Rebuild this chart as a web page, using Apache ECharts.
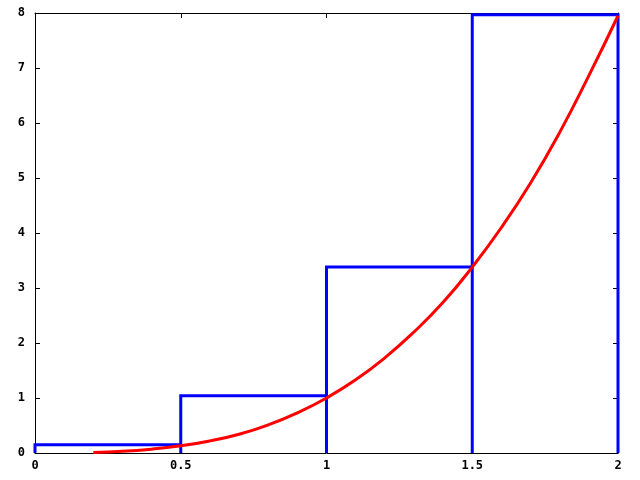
<!DOCTYPE html>
<html lang="en">
  <head>
    <meta charset="UTF-8" />
    <script src="https://cdn.jsdelivr.net/npm/echarts@6/dist/echarts.min.js"></script>
    <style>
      html,
      body {
        margin: 0;
        overflow: hidden;
      }
      #viewport {
        width: 640px;
        height: 480px;
      }
    </style>
  </head>
  <body>
    <div id="viewport"></div>
    <script>
      // rectangle edges and heights (blue boxes)
      var boxEdges = [0, 0.5, 1, 1.5, 2];
      var boxHeights = [0.15, 1.04, 3.38, 7.97];

      // red curve
      var curveX = [0.2, 0.3, 0.4, 0.5, 0.6, 0.7, 0.8, 0.9, 1.0, 1.1, 1.2, 1.3, 1.4, 1.5, 1.6, 1.7, 1.8, 1.9, 2.0];
      var curveY = [0.01, 0.03, 0.07, 0.13, 0.22, 0.34, 0.51, 0.73, 1.0, 1.33, 1.73, 2.2, 2.74, 3.38, 4.1, 4.91, 5.83, 6.86, 7.95];

      var xTicks = ['0', '0.5', '1', '1.5', '2'];
      var yTicks = ['0', '1', '2', '3', '4', '5', '6', '7', '8'];

      // outline of each box: up, across, down
      var boxPath = [[boxEdges[0], 0]];
      for (var i = 0; i < boxHeights.length; i++) {
        boxPath.push([boxEdges[i], boxHeights[i]]);
        boxPath.push([boxEdges[i + 1], boxHeights[i]]);
        boxPath.push([boxEdges[i + 1], 0]);
      }
      var curve = curveX.map(function (x, i) {
        return [x, curveY[i]];
      });

      var labelFont = {
        fontFamily: 'DejaVu Sans Mono',
        fontWeight: 'bold',
        fontSize: 12,
        color: '#000'
      };
      var frameLine = { show: true, onZero: false, lineStyle: { color: '#000', width: 1 } };
      var tick = { show: true, inside: true, length: 5, lineStyle: { color: '#000' } };

      var myChart = echarts.init(document.getElementById('viewport'));
      var option = {
        animation: false,
        backgroundColor: '#fff',
        grid: { left: 35, right: 22, top: 13, bottom: 27 },
        xAxis: [
          {
            type: 'value',
            min: 0,
            max: 2,
            interval: 0.5,
            axisLine: frameLine,
            axisTick: tick,
            splitLine: { show: false },
            axisLabel: Object.assign({ margin: 7 }, labelFont, {
              formatter: function (v) {
                return xTicks[Math.round(v * 2)];
              }
            })
          },
          {
            type: 'value',
            position: 'top',
            min: 0,
            max: 2,
            interval: 0.5,
            axisLine: frameLine,
            axisTick: tick,
            splitLine: { show: false },
            axisLabel: { show: false }
          }
        ],
        yAxis: [
          {
            type: 'value',
            min: 0,
            max: 8,
            interval: 1,
            axisLine: frameLine,
            axisTick: tick,
            splitLine: { show: false },
            axisLabel: Object.assign({ margin: 10 }, labelFont, {
              formatter: function (v) {
                return yTicks[v];
              }
            })
          },
          {
            type: 'value',
            position: 'right',
            min: 0,
            max: 8,
            interval: 1,
            axisLine: frameLine,
            axisTick: tick,
            splitLine: { show: false },
            axisLabel: { show: false }
          }
        ],
        series: [
          {
            type: 'line',
            data: boxPath,
            showSymbol: false,
            clip: false,
            lineStyle: { color: '#0000ff', width: 3, join: 'miter' }
          },
          {
            type: 'line',
            data: curve,
            showSymbol: false,
            smooth: true,
            clip: false,
            lineStyle: { color: '#ff0000', width: 3 }
          }
        ]
      };
      myChart.setOption(option);
    </script>
  </body>
</html>
